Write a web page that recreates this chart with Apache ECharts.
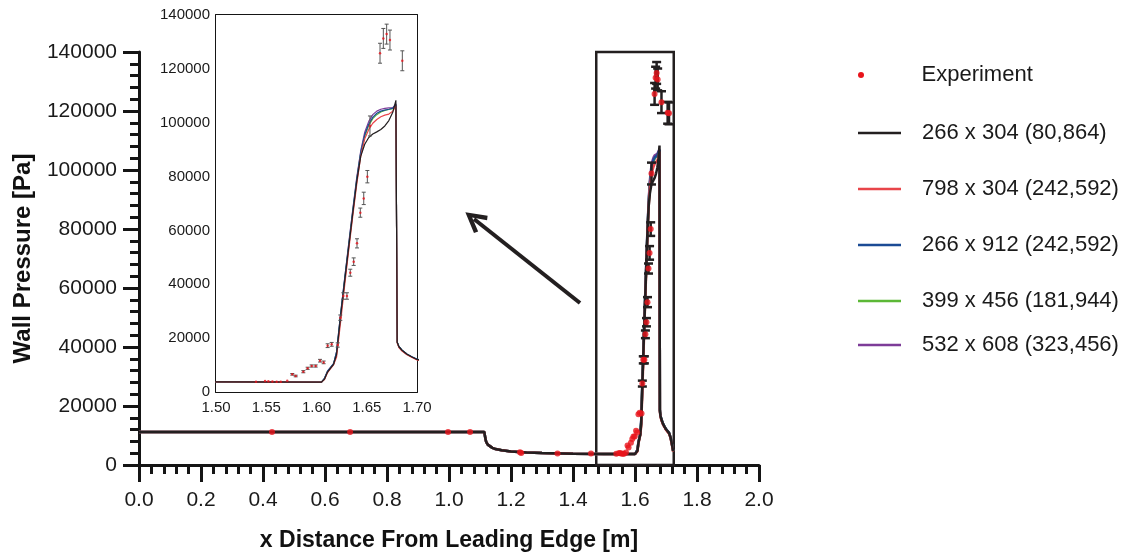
<!DOCTYPE html>
<html>
<head>
<meta charset="utf-8">
<script src="https://cdn.jsdelivr.net/npm/echarts@6/dist/echarts.min.js"></script>
<style>
html,body{margin:0;padding:0;background:#fff;}
#chart{width:1126px;height:559px;}
</style>
</head>
<body>
<div id="chart"></div>
<script>
// ---------- DATA ----------
const seriesNames = ['266 x 304 (80,864)', '798 x 304 (242,592)', '266 x 912 (242,592)', '399 x 456 (181,944)', '532 x 608 (323,456)'];
const seriesColors = ['#231f20', '#e8454a', '#1b4b95', '#5cb836', '#7d3c98'];

const cfdX = [0, 0.5, 1.0, 1.114, 1.117, 1.12, 1.125, 1.13, 1.14, 1.15, 1.17, 1.2, 1.25, 1.3, 1.4,
  1.5, 1.6, 1.605, 1.608, 1.611, 1.614, 1.617, 1.62, 1.624, 1.628, 1.632, 1.636, 1.64, 1.644, 1.648,
  1.652, 1.656, 1.66, 1.664, 1.668, 1.672, 1.676, 1.679, 1.6803, 1.682, 1.685, 1.69, 1.695, 1.70,
  1.705, 1.71, 1.715, 1.72, 1.723];

const y266x304 = [11200, 11200, 11200, 11200, 9200, 7800, 6900, 6400, 5800, 5400, 5000, 4600, 4250, 4050, 3850,
  3750, 3700, 3700, 4800, 7400, 8900, 10300, 14000, 28000, 41000, 53500, 66000, 78000, 87500, 92000,
  94500, 95800, 96600, 97500, 98800, 100800, 104000, 108300, 18500, 16800, 15500, 14000, 13000, 12100,
  11600, 10800, 9200, 6500, 4700];
const y798x304 = [11200, 11200, 11200, 11200, 9200, 7800, 6900, 6400, 5800, 5400, 5000, 4600, 4250, 4050, 3850,
  3750, 3700, 3700, 4600, 7200, 8700, 10100, 13000, 26000, 39500, 52500, 65000, 77000, 87500, 94000,
  97500, 99800, 101200, 102200, 102800, 103200, 104300, 106300, 18200, 16500, 15200, 13800, 12800, 11900,
  11400, 10600, 9000, 6300, 4600];
const y266x912 = [11200, 11200, 11200, 11200, 9200, 7800, 6900, 6400, 5800, 5400, 5000, 4600, 4250, 4050, 3850,
  3750, 3700, 3700, 5200, 7800, 9100, 10500, 15000, 29000, 42000, 54500, 67000, 79000, 89000, 95500,
  99500, 102000, 103500, 104300, 104700, 105000, 105400, 106800, 18600, 16900, 15600, 14100, 13100, 12200,
  11700, 10900, 9300, 6600, 4800];
const y399x456 = [11200, 11200, 11200, 11200, 9200, 7800, 6900, 6400, 5800, 5400, 5000, 4600, 4250, 4050, 3850,
  3750, 3700, 3700, 5000, 7600, 9000, 10400, 14500, 28500, 41500, 54000, 66500, 78500, 88500, 95000,
  99000, 101500, 103000, 104000, 104600, 104900, 105200, 106300, 18500, 16800, 15500, 14000, 13000, 12100,
  11600, 10800, 9200, 6500, 4700];
const y532x608 = [11200, 11200, 11200, 11200, 9200, 7800, 6900, 6400, 5800, 5400, 5000, 4600, 4250, 4050, 3850,
  3750, 3700, 3700, 5100, 7700, 9100, 10500, 15000, 29000, 42000, 55000, 67500, 79500, 89500, 96500,
  100500, 103000, 104300, 105000, 105300, 105500, 105600, 107000, 18500, 16800, 15500, 14000, 13000, 12100,
  11600, 10800, 9200, 6500, 4700];
const cfdY = [y266x304, y798x304, y266x912, y399x456, y532x608];

const expX = [0.429, 0.681, 0.997, 1.068, 1.229, 1.233, 1.350, 1.458,
  1.5398, 1.5488, 1.5521, 1.5561, 1.5604, 1.5644, 1.5709,
  1.5759, 1.5793, 1.5869, 1.5912, 1.5952, 1.5992,
  1.6035, 1.6071, 1.6111, 1.6151, 1.6211,
  1.6237, 1.6267, 1.6303, 1.6336, 1.637,
  1.6403, 1.6436, 1.647, 1.6506, 1.6532,
  1.6632, 1.6665, 1.6698, 1.6731, 1.6854,
  1.7053, 1.7097];
const expY = [11200, 11200, 11200, 11200, 4300, 4100, 3900, 3900,
  3830, 4080, 4000, 3900, 3850, 3850, 4200,
  6570, 5940, 7540, 8800, 9650, 9650,
  11620, 11000, 17200, 17700, 17450,
  27600, 35650, 35650, 44300, 48400,
  55200, 66600, 71900, 79960, 98800,
  125800, 131300, 132900, 130700, 123000,
  119400, 119200];
const expErr = [0, 0, 0, 0, 0, 0, 0, 0,
  0, 0, 0, 0, 0, 0, 0,
  300, 300, 400, 400, 400, 400,
  500, 500, 700, 700, 800,
  1000, 1200, 1200, 1300, 1400,
  1700, 1700, 2300, 2300, 3700,
  3700, 3700, 3700, 3700, 3700,
  3700, 3700];

const mainXTicks = {min: 0, max: 2.0, interval: 0.2};
const mainYTicks = {min: 0, max: 140000, interval: 20000};
const insetXTicks = {min: 1.5, max: 1.7, interval: 0.05};
const insetYTicks = {min: 0, max: 140000, interval: 20000};
const zoomBox = [[1.475, 0], [1.725, 140000]];
const arrowFromTo = [[1.4226, 54900], [1.0806, 83390]];

// ---------- CHART ----------
const FONT = "'Liberation Sans', Arial, sans-serif";
const chart = echarts.init(document.getElementById('chart'), null, {renderer: 'canvas'});

const expData = expX.map((x, i) => [x, expY[i], expErr[i]]);

function errBar(minErr, half, width, color) {
  return function (params, api) {
    const x = api.value(0), y = api.value(1), e = api.value(2);
    if (e < minErr) return null;
    const t = api.coord([x, y + e]);
    const b = api.coord([x, y - e]);
    const st = {stroke: color, lineWidth: width, fill: null};
    return {
      type: 'group',
      children: [
        {type: 'line', shape: {x1: t[0], y1: t[1], x2: b[0], y2: b[1]}, style: st},
        {type: 'line', shape: {x1: t[0] - half, y1: t[1], x2: t[0] + half, y2: t[1]}, style: st},
        {type: 'line', shape: {x1: b[0] - half, y1: b[1], x2: b[0] + half, y2: b[1]}, style: st}
      ]
    };
  };
}

const series = [];
[4, 3, 2, 1, 0].forEach(k => {
  const s = {
    name: seriesNames[k], type: 'line', xAxisIndex: 0, yAxisIndex: 0,
    data: cfdX.map((x, i) => [x, cfdY[k][i]]),
    symbol: 'none', color: seriesColors[k],
    lineStyle: {width: 2.5, color: seriesColors[k]}, z: 3
  };
  if (k === 0) {
    s.markArea = {
      silent: true,
      itemStyle: {color: 'rgba(0,0,0,0)', borderColor: '#231f20', borderWidth: 2.5},
      data: [[{coord: zoomBox[0]}, {coord: zoomBox[1]}]]
    };
    s.markLine = {
      silent: true,
      symbol: ['none', 'path://M10,0 L20,17 L16.5,19 L10,7.5 L3.5,19 L0,17 Z'],
      symbolSize: [22, 22],
      label: {show: false},
      lineStyle: {color: '#231f20', width: 4, type: 'solid'},
      data: [[{coord: arrowFromTo[0]}, {coord: arrowFromTo[1]}]]
    };
  }
  series.push(s);
});
series.push({
  name: 'Experiment', type: 'custom', xAxisIndex: 0, yAxisIndex: 0,
  renderItem: errBar(900, 4.5, 2.5, '#231f20'), data: expData, z: 4, silent: true
});
series.push({
  name: 'Experiment', type: 'scatter', xAxisIndex: 0, yAxisIndex: 0,
  data: expData, symbolSize: 6, color: '#e8141b', itemStyle: {color: '#e8141b'}, z: 5
});
[4, 3, 2, 1, 0].forEach(k => {
  series.push({
    name: seriesNames[k], type: 'line', xAxisIndex: 1, yAxisIndex: 1,
    data: cfdX.map((x, i) => [x, cfdY[k][i]]),
    symbol: 'none', color: seriesColors[k],
    lineStyle: {width: 1.2, color: seriesColors[k]}, z: 13
  });
});
series.push({
  name: 'Experiment', type: 'custom', xAxisIndex: 1, yAxisIndex: 1, clip: true,
  renderItem: errBar(250, 2, 1, '#555'), data: expData, z: 14, silent: true
});
series.push({
  name: 'Experiment', type: 'scatter', xAxisIndex: 1, yAxisIndex: 1, clip: true,
  data: expData, symbolSize: 2.5, color: '#e8141b', itemStyle: {color: '#e8141b'}, z: 15
});

const axisCol = '#151515';
const legendTextA = {fontFamily: FONT, fontSize: 22, color: '#1a1a1a', lineHeight: 24, padding: [0, 0, 0, 34]};
const legendTextB = {fontFamily: FONT, fontSize: 22, color: '#1a1a1a', lineHeight: 24, padding: [0, 0, 0, 16]};
const plain = v => String(Math.round(v));

const option = {
  animation: false,
  backgroundColor: '#fff',
  textStyle: {fontFamily: FONT},
  grid: [
    {left: 139, right: 367, top: 52, bottom: 94},
    {left: 216, right: 709, top: 15, bottom: 167, show: true, backgroundColor: '#fff', borderWidth: 0, z: 10}
  ],
  legend: [
    {
      left: 853, top: 58, orient: 'vertical', itemWidth: 43, itemHeight: 6,
      data: [{name: 'Experiment', icon: 'circle', itemStyle: {color: '#e8141b'}}],
      textStyle: legendTextA, selectedMode: false
    },
    {
      left: 853, top: 116, orient: 'vertical', itemWidth: 43, itemHeight: 2.5, itemGap: 32,
      data: seriesNames.slice(0, 4).map((n, i) => ({name: n, icon: 'rect', itemStyle: {color: seriesColors[i]}})),
      textStyle: legendTextB, selectedMode: false
    },
    {
      left: 853, top: 328, orient: 'vertical', itemWidth: 43, itemHeight: 2.5,
      data: [{name: seriesNames[4], icon: 'rect', itemStyle: {color: seriesColors[4]}}],
      textStyle: legendTextB, selectedMode: false
    }
  ],
  xAxis: [
    {
      gridIndex: 0, type: 'value', min: mainXTicks.min, max: mainXTicks.max, interval: mainXTicks.interval,
      name: 'x Distance From Leading Edge [m]', nameLocation: 'middle', nameGap: 64,
      nameTextStyle: {fontFamily: FONT, fontSize: 23, fontWeight: 'bold', color: '#111'},
      axisLine: {lineStyle: {color: axisCol, width: 3}},
      axisTick: {length: 17, lineStyle: {color: axisCol, width: 3}},
      minorTick: {show: true, splitNumber: 5, length: 9, lineStyle: {color: axisCol, width: 3}},
      axisLabel: {fontFamily: FONT, fontSize: 21, color: '#1a1a1a', margin: 25, formatter: v => v.toFixed(1)},
      splitLine: {show: false}
    },
    {
      gridIndex: 1, type: 'value', min: insetXTicks.min, max: insetXTicks.max, interval: insetXTicks.interval,
      axisLine: {onZero: false, lineStyle: {color: axisCol, width: 2}},
      axisTick: {inside: true, length: 6, lineStyle: {color: axisCol, width: 1.5}},
      minorTick: {show: true, splitNumber: 5, length: 3, lineStyle: {color: axisCol, width: 1.2}},
      axisLabel: {fontFamily: FONT, fontSize: 15, color: '#1a1a1a', margin: 8, formatter: v => v.toFixed(2)},
      splitLine: {show: false}
    },
    {
      gridIndex: 1, type: 'value', position: 'top', min: insetXTicks.min, max: insetXTicks.max, interval: insetXTicks.interval,
      axisLine: {onZero: false, lineStyle: {color: axisCol, width: 2}},
      axisTick: {inside: true, length: 6, lineStyle: {color: axisCol, width: 1.5}},
      minorTick: {show: true, splitNumber: 5, length: 3, lineStyle: {color: axisCol, width: 1.2}},
      axisLabel: {show: false}, splitLine: {show: false}
    }
  ],
  yAxis: [
    {
      gridIndex: 0, type: 'value', min: mainYTicks.min, max: mainYTicks.max, interval: mainYTicks.interval,
      name: 'Wall Pressure [Pa]', nameLocation: 'middle', nameGap: 104,
      nameTextStyle: {fontFamily: FONT, fontSize: 24, fontWeight: 'bold', color: '#111'},
      axisLine: {show: true, lineStyle: {color: axisCol, width: 3}},
      axisTick: {show: true, length: 16, lineStyle: {color: axisCol, width: 3}},
      minorTick: {show: true, splitNumber: 5, length: 9, lineStyle: {color: axisCol, width: 3}},
      axisLabel: {fontFamily: FONT, fontSize: 21, color: '#1a1a1a', margin: 22, formatter: plain},
      splitLine: {show: false}
    },
    {
      gridIndex: 1, type: 'value', min: insetYTicks.min, max: insetYTicks.max, interval: insetYTicks.interval,
      axisLine: {show: true, onZero: false, lineStyle: {color: axisCol, width: 2}},
      axisTick: {show: true, inside: true, length: 6, lineStyle: {color: axisCol, width: 1.5}},
      minorTick: {show: true, splitNumber: 8, length: 3, lineStyle: {color: axisCol, width: 1.2}},
      axisLabel: {fontFamily: FONT, fontSize: 15, color: '#1a1a1a', margin: 6, formatter: plain},
      splitLine: {show: false}
    },
    {
      gridIndex: 1, type: 'value', position: 'right', min: insetYTicks.min, max: insetYTicks.max, interval: insetYTicks.interval,
      axisLine: {show: true, onZero: false, lineStyle: {color: axisCol, width: 2}},
      axisTick: {show: true, inside: true, length: 6, lineStyle: {color: axisCol, width: 1.5}},
      minorTick: {show: true, splitNumber: 8, length: 3, lineStyle: {color: axisCol, width: 1.2}},
      axisLabel: {show: false}, splitLine: {show: false}
    }
  ],
  series: series
};
chart.setOption(option);
</script>
</body>
</html>
